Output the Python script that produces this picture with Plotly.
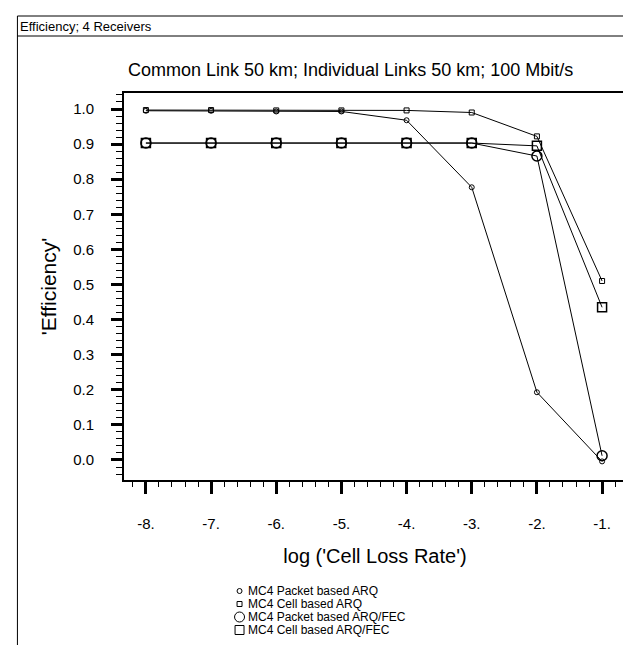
import plotly.graph_objects as go

# ---- data ----
log_clr = [-8, -7, -6, -5, -4, -3, -2, -1]
packet_arq = [0.995, 0.995, 0.993, 0.993, 0.968, 0.777, 0.193, -0.004]
cell_arq = [0.997, 0.997, 0.996, 0.996, 0.996, 0.990, 0.922, 0.510]
packet_arq_fec = [0.903, 0.903, 0.903, 0.903, 0.903, 0.903, 0.866, 0.012]
cell_arq_fec = [0.903, 0.903, 0.903, 0.903, 0.903, 0.903, 0.895, 0.435]

series_names = ["MC4 Packet based ARQ", "MC4 Cell based ARQ",
                "MC4 Packet based ARQ/FEC", "MC4 Cell based ARQ/FEC"]
x_tickvals = [-8, -7, -6, -5, -4, -3, -2, -1]
x_ticktext = ["-8.", "-7.", "-6.", "-5.", "-4.", "-3.", "-2.", "-1."]
y_tickvals = [0.0, 0.1, 0.2, 0.3, 0.4, 0.5, 0.6, 0.7, 0.8, 0.9, 1.0]
y_ticktext = ["0.0", "0.1", "0.2", "0.3", "0.4", "0.5", "0.6", "0.7", "0.8", "0.9", "1.0"]

W, H = 631, 645
L, R, T, B = 116, 620, 85, 472  # plot area in px
FONT = "Arial, Liberation Sans, sans-serif"


def px(x):
    return (x - L) / (R - L)


def py(y):
    return (B - y) / (B - T)


styles = [
    dict(symbol="circle-open", size=5, line=dict(width=1, color="black")),
    dict(symbol="square-open", size=5, line=dict(width=1, color="black")),
    dict(symbol="circle-open", size=10, line=dict(width=1.5, color="black")),
    dict(symbol="square-open", size=9, line=dict(width=1.5, color="black")),
]
all_y = [packet_arq, cell_arq, packet_arq_fec, cell_arq_fec]

fig = go.Figure()
for name, ys, st in zip(series_names, all_y, styles):
    fig.add_trace(go.Scatter(
        x=log_clr, y=ys, name=name, mode="lines+markers",
        line=dict(color="black", width=1),
        marker=dict(color="black", **st),
        showlegend=False, cliponaxis=False,
    ))

shapes = []
annotations = []

# outer page border and header box
BL, BR, BT, HL = 9, 627, 8, 28
shapes.append(dict(type="line", xref="paper", yref="paper",
                   x0=px(BL), x1=px(BL), y0=py(BT), y1=py(650),
                   line=dict(color="black", width=1)))
shapes.append(dict(type="line", xref="paper", yref="paper",
                   x0=px(BR), x1=px(BR), y0=py(BT), y1=py(650),
                   line=dict(color="black", width=1)))
shapes.append(dict(type="line", xref="paper", yref="paper",
                   x0=px(BL), x1=px(BR), y0=py(BT), y1=py(BT),
                   line=dict(color="black", width=1)))
shapes.append(dict(type="line", xref="paper", yref="paper",
                   x0=px(BL), x1=px(BR), y0=py(HL), y1=py(HL),
                   line=dict(color="black", width=1)))

annotations.append(dict(text="Efficiency; 4 Receivers", xref="paper", yref="paper",
                        x=px(10), y=py(18), xanchor="left", yanchor="middle",
                        showarrow=False, font=dict(family=FONT, size=13, color="black")))
annotations.append(dict(text="Common Link 50 km; Individual Links 50 km; 100 Mbit/s",
                        xref="paper", yref="paper", x=px(343), y=py(62),
                        xanchor="center", yanchor="middle", showarrow=False,
                        font=dict(family=FONT, size=18, color="black")))

# custom legend
leg_rows = [583, 596, 609, 622]
leg_sizes = [5, 5, 10, 9]
leg_kinds = ["circle", "rect", "circle", "rect"]
for name, yy, s, k in zip(series_names, leg_rows, leg_sizes, leg_kinds):
    cx = 232
    h = s / 2
    shapes.append(dict(type=k, xref="paper", yref="paper",
                       x0=px(cx - h), x1=px(cx + h), y0=py(yy - h), y1=py(yy + h),
                       line=dict(color="black", width=1)))
    annotations.append(dict(text=name, xref="paper", yref="paper",
                            x=px(238), y=py(yy), xanchor="left", yanchor="middle",
                            showarrow=False,
                            font=dict(family=FONT, size=12, color="black")))

fig.update_layout(
    width=W, height=H,
    margin=dict(l=L, r=W - R, t=T, b=H - B, pad=0),
    paper_bgcolor="white", plot_bgcolor="white",
    font=dict(family=FONT, color="black"),
    shapes=shapes, annotations=annotations,
    showlegend=False,
    xaxis=dict(
        range=[-8.336, -0.633], tickvals=x_tickvals, ticktext=x_ticktext,
        ticks="outside", ticklen=12, tickwidth=3, tickcolor="black",
        showline=True, linecolor="black", linewidth=2, mirror=True,
        showgrid=False, zeroline=False,
        tickfont=dict(family=FONT, size=15, color="black"),
        ticklabelstandoff=17,
        minor=dict(ticks="outside", ticklen=5, tickwidth=1, tickcolor="black",
                   dtick=0.2, tick0=-8, showgrid=False),
        title=dict(text="log ('Cell Loss Rate')", standoff=18,
                   font=dict(family=FONT, size=20, color="black")),
    ),
    yaxis=dict(
        range=[-0.057, 1.0456], tickvals=y_tickvals, ticktext=y_ticktext,
        ticks="outside", ticklen=11, tickwidth=3, tickcolor="black",
        showline=True, linecolor="black", linewidth=2, mirror=True,
        showgrid=False, zeroline=False,
        tickfont=dict(family=FONT, size=15, color="black"),
        ticklabelstandoff=14,
        minor=dict(ticks="outside", ticklen=6, tickwidth=1, tickcolor="black",
                   dtick=0.02, tick0=0, showgrid=False),
        title=dict(text="'Efficiency'", standoff=11,
                   font=dict(family=FONT, size=21, color="black")),
    ),
)

fig.write_html("out.html")
